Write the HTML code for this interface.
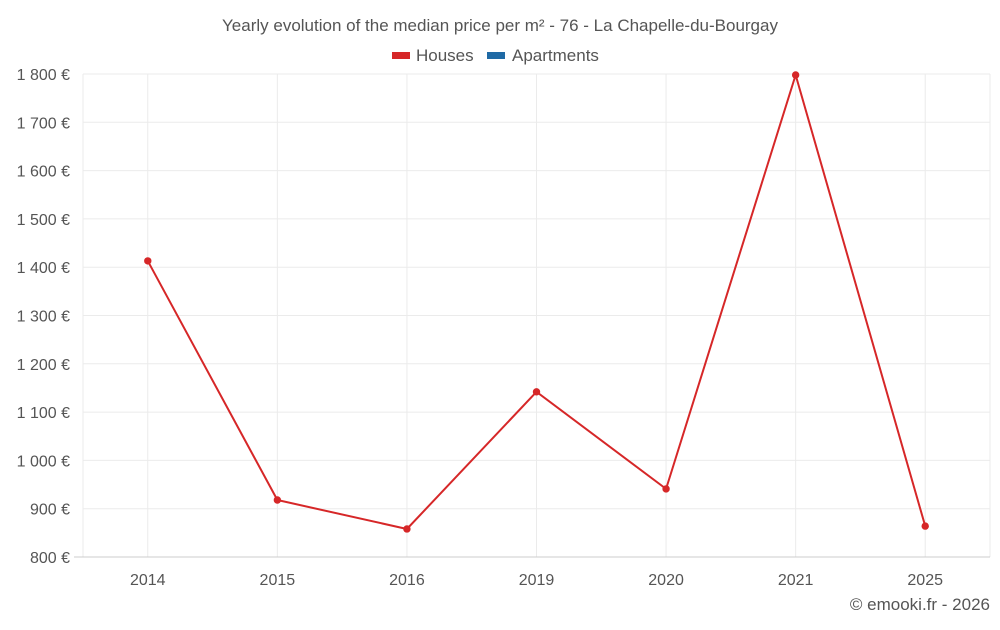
<!DOCTYPE html>
<html><head><meta charset="utf-8"><style>
body{margin:0;background:#fff;font-family:"Liberation Sans",sans-serif;}
svg text{font-family:"Liberation Sans",sans-serif;fill:#555;}
</style></head><body>
<svg id="chart" width="1000" height="625">
<text x="500" y="31" text-anchor="middle" font-size="17">Yearly evolution of the median price per m² - 76 - La Chapelle-du-Bourgay</text>
<g>
<g><rect x="392" y="52" width="18" height="7" fill="#d62728"/><text x="416" y="61" font-size="17">Houses</text></g>
<g><rect x="487" y="52" width="18" height="7" fill="#1f6aa5"/><text x="512" y="61" font-size="17">Apartments</text></g>
</g>
<g id="grid"></g>
<g id="yaxis"></g>
<g id="xaxis"></g>
<g id="series"></g>
<text x="990" y="610" text-anchor="end" font-size="17">© emooki.fr - 2026</text>
</svg>
<script>
const categories=["2014","2015","2016","2019","2020","2021","2025"];
const houses=[1413,918,858,1142,941,1798,864];
const yTicks=[800,900,1000,1100,1200,1300,1400,1500,1600,1700,1800];
const NS="http://www.w3.org/2000/svg";
const L=83,R=990,T=74,B=557,ymin=800,ymax=1800;
const bw=(R-L)/categories.length;
const x=i=>L+bw*(i+0.5);
const y=v=>B-(v-ymin)/(ymax-ymin)*(B-T);
function mk(t,a,p){const e=document.createElementNS(NS,t);for(const k in a)e.setAttribute(k,a[k]);p.appendChild(e);return e;}
const grid=document.getElementById('grid'),ya=document.getElementById('yaxis'),xa=document.getElementById('xaxis'),s=document.getElementById('series');
const vx=[L,R].concat(categories.map((c,i)=>x(i)));
vx.forEach(px=>{
 const l=mk('line',{x1:px,x2:px,y1:T,y2:B,stroke:'#ebebeb'},grid);
 
 
});
yTicks.forEach(v=>{
 const l=mk('line',{x1:v===ymin?74:L,x2:R,y1:y(v),y2:y(v),stroke:v===ymin?'#ccc':'#ebebeb'},grid);
 
 
 const t=mk('text',{x:70,y:y(v)+6,'text-anchor':'end','font-size':'16'},ya);
 t.textContent=(v>=1000?Math.floor(v/1000)+' '+String(v%1000).padStart(3,'0'):v)+' €';
 
 
});
categories.forEach((c,i)=>{
 const t=mk('text',{x:x(i),y:585,'text-anchor':'middle','font-size':'16'},xa);
 t.textContent=c;
 
 
});
const p=mk('polyline',{points:houses.map((v,i)=>x(i)+','+y(v)).join(' '),fill:'none',stroke:'#d62728','stroke-width':2},s);


houses.forEach((v,i)=>{
 const c=mk('circle',{cx:x(i),cy:y(v),r:3.7,fill:'#d62728'},s);
 
 
});
</script>
</body></html>
